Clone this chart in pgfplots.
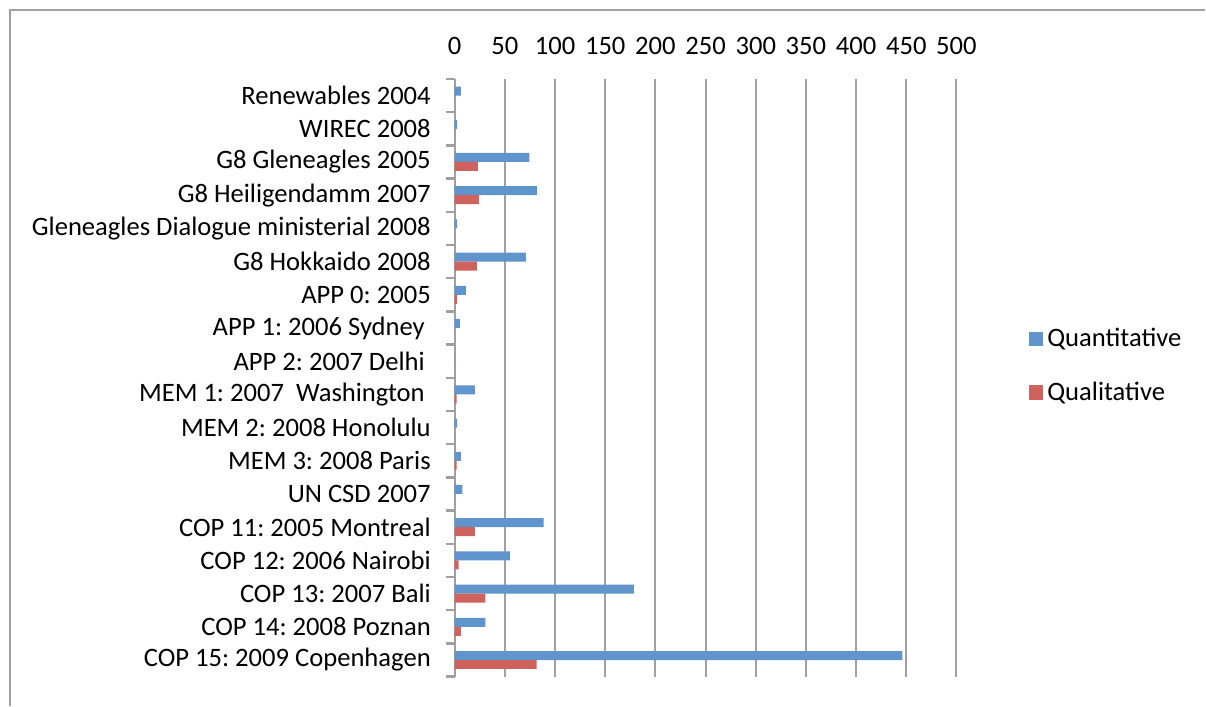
\documentclass[border=0pt]{standalone}
\usepackage{pgfplots}
\pgfplotsset{compat=1.18}
\usepackage{pgfplotstable}
\usepackage{fontspec}
\setmainfont{Carlito}
\frenchspacing
\definecolor{qblue}{RGB}{95,148,204}
\definecolor{qred}{RGB}{207,98,92}
\definecolor{gridc}{RGB}{160,160,160}

% pos: 17 = top row, 0 = bottom row
\pgfplotstableread{
pos quant qual
17 6 0
16 2.5 0
15 74.5 23
14 82 24
13 2.5 0
12 71 22
11 11 2.5
10 5 0
9 0 0
8 20 2
7 2.5 0
6 6 2
5 7.5 0
4 88.5 20
3 55 4
2 178.5 30.5
1 30.5 6
0 446 81.5
}\datatable

\begin{document}
\begin{tikzpicture}[x=1pt,y=1pt]
\path (0,0) rectangle (603,353);
\draw[gridc, line width=0.7pt] (5,0) -- (5,348) -- (603,348);
\begin{axis}[
  at={(227.5pt,14.5pt)}, anchor=south west,
  scale only axis, width=251pt, height=299pt,
  xbar=0pt, bar width=4.5pt,
  xmin=0, xmax=500, ymin=-0.5, ymax=17.5,
  axis line style={draw=none},
  xtick={0,50,...,500},
  xticklabel pos=right,
  xtick style={draw=none},
  xmajorgrids,
  major x grid style={gridc, line width=1pt},
  ytick={-0.5,0.5,...,17.5},
  ytick pos=left,
  yticklabels={COP 15: 2009 Copenhagen, COP 14: 2008 Poznan, COP 13: 2007 Bali, COP 12: 2006 Nairobi, COP 11: 2005 Montreal, UN CSD 2007, MEM 3: 2008 Paris, MEM 2: 2008 Honolulu, MEM 1: 2007\ \ Washington\kern3pt, APP 2: 2007 Delhi\kern3pt, APP 1: 2006 Sydney\kern3pt, APP 0: 2005, G8 Hokkaido 2008, Gleneagles Dialogue ministerial 2008, G8 Heiligendamm 2007, G8 Gleneagles 2005, WIREC 2008, Renewables 2004, {}},
  ytick style={draw=gridc, line width=1.2pt},
  major tick length=4.5pt,
  tick align=outside,
  yticklabel style={font=\fontsize{13.3}{15}\selectfont, xshift=-4pt, yshift=8.31pt},
  xticklabel style={font=\fontsize{13.3}{15}\selectfont, yshift=4pt},
  /pgf/number format/assume math mode=true,
  legend style={at={(1.131,0.52)}, anchor=west, draw=none, fill=none,
    font=\fontsize{13.3}{15}\selectfont, row sep=12pt},
  legend cell align=left,
  legend image code/.code={\fill[#1] (0pt,-3.7pt) rectangle (7.4pt,3.7pt);},
]
\addplot[fill=qblue, draw=none, bar shift=2.25pt] table[x=quant, y=pos] {\datatable};
\addplot[fill=qred, draw=none, bar shift=-2.25pt] table[x=qual, y=pos] {\datatable};
\legend{Quantitative, Qualitative}
\end{axis}
\end{tikzpicture}
\end{document}
